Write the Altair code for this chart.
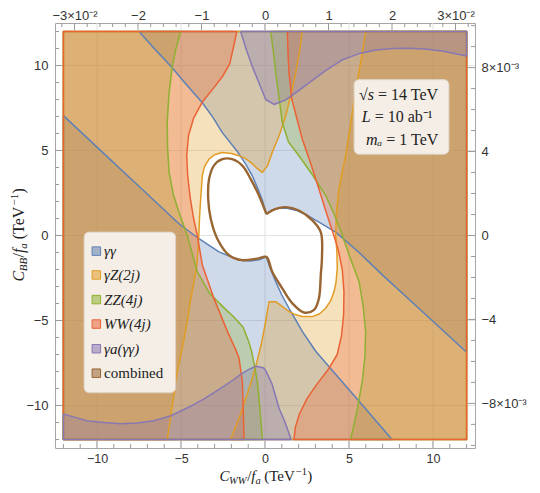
import altair as alt
import pandas as pd

SERIF = "Liberation Serif"
SANS = "Liberation Sans"

# ---------------- boundary curves (data units) ----------------
# gamma gamma (blue): upper-right boundary and lower-left boundary
gg_upper_x = [-7.5, -6.5, -5.6, -4.7, -3.73, -3.1, -2.54, -1.6, -1.15, -0.77, -0.45, -0.18, 0.08, 0.4, 0.83,
              1.3, 1.83, 2.5, 3.21, 4.21, 5.6, 7.0, 8.5, 10.3, 12.0]
gg_upper_y = [12.0, 10.9, 9.95, 8.9, 7.81, 6.95, 6.05, 4.88, 4.2, 3.54, 2.8, 2.13, 1.27, 1.5, 1.6,
              1.6, 1.49, 1.2, 0.79, 0.2, -1.0, -2.33, -3.69, -5.32, -6.87]
gg_lower_x = [-12.0, -10.0, -8.0, -6.5, -5.12, -3.93, -2.74, -1.55, -0.9, -0.36, 0.08, 0.3, 0.64, 1.0,
              1.43, 2.22, 3.02, 4.5, 6.0, 7.56]
gg_lower_y = [7.05, 5.2, 3.35, 1.97, 0.69, -0.19, -0.96, -1.45, -1.5, -1.43, -1.26, -1.9, -2.72, -3.5,
              -4.28, -5.64, -6.81, -8.5, -10.2, -12.0]

# gamma Z (2j) (orange): left boundary and right boundary
gz_left_x = [2.22, 2.05, 1.83, 1.55, 1.23, 0.85, 0.43, 0.15, -0.16, -0.5, -0.85, -1.2, -1.55, -2.0, -2.54,
             -3.0, -3.33, -3.6, -3.73, -3.83, -3.9, -3.93, -4.0, -4.05, -4.23, -4.45, -4.63, -4.9, -5.22,
             -5.5, -5.82]
gz_left_y = [12.0, 10.8, 9.56, 8.3, 7.03, 5.9, 4.88, 4.1, 3.71, 3.98, 4.3, 4.55, 4.69, 4.82, 4.88,
             4.75, 4.49, 4.05, 3.52, 2.15, 1.0, 0.2, -1.0, -1.74, -2.72, -3.9, -5.06, -6.5, -7.98,
             -9.9, -12.0]
gz_right_x = [5.99, 5.7, 5.4, 5.1, 4.8, 4.55, 4.4, 4.25, 4.21, 4.28, 4.3, 4.22, 4.11, 3.9, 3.61, 3.25,
              2.82, 2.22, 1.8, 1.43, 1.0, 0.64, 0.24, 0.05, -0.2, -0.55, -0.95, -1.45, -2.04]
gz_right_y = [12.0, 10.2, 8.58, 6.6, 4.69, 3.5, 2.74, 1.3, 0.01, -1.0, -1.94, -2.8, -3.3, -3.85, -4.28,
              -4.6, -4.77, -4.77, -4.65, -4.47, -4.15, -3.89, -3.89, -5.0, -6.3, -7.7, -9.0, -10.5, -12.0]

# ZZ (4j) (green)
zz_left_x = [-5.02, -5.3, -5.52, -5.72, -5.82, -5.8, -5.71, -5.45, -5.12, -4.63, -4.03, -3.3, -2.5, -1.9,
             -1.3, -0.95, -0.8, -0.6, -0.46, -0.3, -0.16]
zz_left_y = [12.0, 11.0, 9.95, 8.3, 6.64, 5.2, 3.71, 2.4, 1.37, 0.01, -2.13, -3.4, -4.2, -4.75,
             -5.4, -6.3, -6.81, -7.8, -8.57, -10.2, -12.0]
zz_right_x = [0.34, 0.5, 0.64, 0.85, 1.03, 1.4, 2.02, 2.8, 3.61, 4.1, 4.6, 5.1, 5.6, 5.85, 5.99, 5.95,
              5.79, 5.5, 5.1]
zz_right_y = [12.0, 10.8, 9.56, 8.0, 6.64, 5.5, 4.69, 3.6, 2.35, 1.3, 0.01, -1.4, -2.72, -4.2, -5.64, -7.1,
              -8.57, -10.2, -12.0]

# WW (4j) (red)
ww_left_x = [-1.68, -1.85, -2.1, -2.5, -3.04, -3.73, -4.25, -4.55, -4.66, -4.6, -4.45, -4.25, -4.03,
             -3.73, -3.04, -2.24, -1.75, -1.55, -1.35, -1.3, -1.25]
ww_left_y = [12.0, 11.2, 10.1, 9.4, 8.7, 7.85, 6.9, 5.9, 4.69, 3.5, 2.2, 1.0, 0.01,
             -1.74, -3.7, -5.64, -6.7, -7.2, -8.57, -10.0, -12.0]
ww_right_x = [1.33, 1.38, 1.43, 1.6, 2.22, 2.7, 3.21, 3.6, 4.0, 4.35, 4.6, 4.7, 4.68, 4.55, 4.3, 3.75,
              3.05, 2.5, 2.05, 1.8, 1.73]
ww_right_y = [12.0, 10.5, 9.56, 8.0, 5.66, 4.3, 2.74, 1.5, 0.3, -0.8, -2.0, -3.3, -4.67, -5.9, -7.0, -7.9,
              -8.8, -9.6, -10.5, -11.3, -12.0]

# gamma a (gamma gamma) (purple)
ga_top_x = [-1.45, -1.1, -0.76, -0.36, 0.04, 0.54, 1.23, 1.9, 2.62, 3.6, 4.58, 5.6, 6.61, 7.6, 8.57,
            9.5, 10.54, 12.0]
ga_top_y = [12.0, 10.9, 9.95, 8.98, 8.0, 7.71, 7.98, 8.45, 8.98, 9.7, 10.32, 10.7, 10.91, 11.0, 11.02,
            10.97, 10.85, 10.56]
ga_bot_x = [-12.0, -11.3, -10.6, -9.6, -8.57, -7.6, -6.61, -5.6, -4.64, -3.6, -2.62, -1.9, -1.43, -0.9,
            -0.54, -0.06, 0.06, 0.42, 0.83, 1.2, 1.55]
ga_bot_y = [-10.5, -10.7, -10.9, -11.0, -11.08, -11.03, -10.9, -10.6, -10.15, -9.6, -8.98, -8.5, -8.16,
            -7.85, -7.69, -7.8, -7.98, -8.74, -10.15, -11.0, -12.0]

# combined (brown) allowed-region contour
comb_x = [0.08, -0.36, -0.85, -1.35, -1.95, -2.54, -3.04, -3.33, -3.38, -3.23, -2.84, -2.14, -1.35, -0.46,
          0.08, 0.43, 1.03, 1.63, 2.32, 2.92, 3.21, 3.32, 3.39, 3.32, 2.82, 2.02, 1.23, 0.64, 0.08]
comb_y = [1.27, 2.35, 3.32, 4.11, 4.49, 4.49, 4.11, 3.32, 2.15, 0.98, -0.19, -1.16, -1.45, -1.36,
          -1.26, -2.13, -3.11, -3.99, -4.53, -4.37, -3.7, -2.33, -1.32, 0.2, 0.89, 1.47, 1.67, 1.57, 1.27]

# plot-range corners that close each excluded region
corners_ul = [(12.0, 12.0)]
corners_ll = [(-12.0, -12.0)]
corners_left = [(-12.0, -12.0), (-12.0, 12.0)]
corners_right = [(12.0, -12.0), (12.0, 12.0)]

labels = ["γγ", "γZ(2j)", "ZZ(4j)", "WW(4j)", "γa(γγ)", "combined"]
colors = ["#5E81B5", "#E19C24", "#8FB032", "#EB6235", "#8778B3", "#996633"]

x_major = [-10, -5, 0, 5, 10]
x_minor = [-12, -11, -9, -8, -7, -6, -4, -3, -2, -1, 1, 2, 3, 4, 6, 7, 8, 9, 11, 12]
top_major = [-0.03, -0.02, -0.01, 0.0, 0.01, 0.02, 0.03]
top_minor = [-0.032, -0.028, -0.026, -0.024, -0.022, -0.018, -0.016, -0.014, -0.012, -0.008, -0.006,
             -0.004, -0.002, 0.002, 0.004, 0.006, 0.008, 0.012, 0.014, 0.016, 0.018, 0.022, 0.024,
             0.026, 0.028, 0.032]
right_major = [-0.008, -0.004, 0.0, 0.004, 0.008]
right_minor = [-0.010, -0.009, -0.007, -0.006, -0.005, -0.003, -0.002, -0.001, 0.001, 0.002, 0.003,
               0.005, 0.006, 0.007, 0.009, 0.010]

info_lines_left = ["√s", "L", "mₐ"]
info_lines_right = ["= 14 TeV", "= 10 ab⁻¹", "= 1 TeV"]

# ---------------- layout ----------------
W, H = 420, 425
PAD_TOP = 15
XD = [-12.5, 12.5]
YD = [-12.5, 12.5]
TD = [-0.03307, 0.03307]
RD = [-0.010125, 0.010125]
FILL_OP = 0.3


def xenc(field="x", domain=XD, axis=None):
    return alt.X(f"{field}:Q", scale=alt.Scale(domain=domain, nice=False, zero=False), axis=axis)


def yenc(field="y", domain=YD, axis=None):
    return alt.Y(f"{field}:Q", scale=alt.Scale(domain=domain, nice=False, zero=False), axis=axis)


def region_df(cx, cy, corners, close=False):
    pts = list(zip(cx, cy)) + list(corners)
    if close:
        pts = pts + [pts[0]]
    return pd.DataFrame({"x": [p[0] for p in pts], "y": [p[1] for p in pts], "i": list(range(len(pts)))})


regions = [
    (gg_upper_x, gg_upper_y, corners_ul, colors[0]),
    (gg_lower_x, gg_lower_y, corners_ll, colors[0]),
    (gz_left_x, gz_left_y, corners_left, colors[1]),
    (gz_right_x, gz_right_y, corners_right, colors[1]),
    (zz_left_x, zz_left_y, corners_left, colors[2]),
    (zz_right_x, zz_right_y, corners_right, colors[2]),
    (ww_left_x, ww_left_y, corners_left, colors[3]),
    (ww_right_x, ww_right_y, corners_right, colors[3]),
    (ga_top_x, ga_top_y, corners_ul, colors[4]),
    (ga_bot_x, ga_bot_y, corners_ll, colors[4]),
]

layers = []

# grid + main axes
lab_minus = "(datum.value < 0 ? '−' : '') + format(abs(datum.value), 'd')"
grid_v = alt.Chart(pd.DataFrame({"x": x_major})).mark_rule(color="#e2e2e2", strokeWidth=1).encode(
    x=xenc(axis=alt.Axis(orient="bottom", values=x_major, ticks=False, domain=False, grid=False,
                         labelFont=SANS, labelFontSize=12.5, labelColor="#333333", labelPadding=4,
                         labelExpr=lab_minus, title=None)),
    y=alt.value(0), y2=alt.value(H))
grid_h = alt.Chart(pd.DataFrame({"y": x_major})).mark_rule(color="#e2e2e2", strokeWidth=1).encode(
    y=yenc(axis=alt.Axis(orient="left", values=x_major, ticks=False, domain=False, grid=False,
                         labelFont=SANS, labelFontSize=13, labelColor="#333333", labelPadding=7,
                         labelExpr=lab_minus, title=None)),
    x=alt.value(0), x2=alt.value(W))
layers += [grid_v, grid_h]

# fills (blue, orange, green, red, purple order)
for cx, cy, cor, col in regions:
    layers.append(alt.Chart(region_df(cx, cy, cor)).mark_line(
        fill=col, fillOpacity=FILL_OP, strokeOpacity=0, interpolate="linear").encode(
        x=xenc(), y=yenc(), order="i:Q"))

# boundary lines on top
for cx, cy, cor, col in regions:
    layers.append(alt.Chart(region_df(cx, cy, cor, close=True)).mark_line(
        color=col, strokeWidth=1.5, strokeJoin="round", interpolate="linear").encode(
        x=xenc(), y=yenc(), order="i:Q"))

# combined contour
comb_df = pd.DataFrame({"x": comb_x, "y": comb_y, "i": list(range(len(comb_x)))})
layers.append(alt.Chart(comb_df).mark_line(color=colors[5], strokeWidth=2.4, interpolate="catmull-rom").encode(
    x=xenc(), y=yenc(), order="i:Q"))

# ticks (inward)
TICK = "#999999"


def vticks(vals, field, domain, y0, y1, axis=None):
    return alt.Chart(pd.DataFrame({field: vals})).mark_rule(color=TICK, strokeWidth=1).encode(
        x=xenc(field, domain, axis), y=alt.value(y0), y2=alt.value(y1))


def hticks(vals, field, domain, x0, x1, axis=None):
    return alt.Chart(pd.DataFrame({field: vals})).mark_rule(color=TICK, strokeWidth=1).encode(
        y=yenc(field, domain, axis), x=alt.value(x0), x2=alt.value(x1))


top_expr = ("abs(datum.value) > 0.025 ? (datum.value < 0 ? '−3×10⁻²' : '3×10⁻²') : "
            "(datum.value < -0.001 ? '−' : '') + format(abs(round(datum.value*100)), 'd')")
right_expr = ("abs(datum.value) > 0.006 ? (datum.value < 0 ? '−8×10⁻³' : '8×10⁻³') : "
              "(datum.value < -0.001 ? '−' : '') + format(abs(round(datum.value*1000)), 'd')")

layers += [
    vticks(x_major, "x", XD, H, H - 7),
    vticks(x_minor, "x", XD, H, H - 4),
    hticks(x_major, "y", YD, 0, 7),
    hticks(x_minor, "y", YD, 0, 4),
    vticks(top_major, "tx", TD, 0, 7,
           alt.Axis(orient="top", values=top_major, ticks=False, domain=False, grid=False,
                    labelFont=SANS, labelFontSize=13, labelColor="#333333", labelPadding=1,
                    labelExpr=top_expr, title=None)),
    vticks(top_minor, "tx", TD, 0, 4),
    hticks(right_major, "ry", RD, W, W - 7,
           alt.Axis(orient="right", values=right_major, ticks=False, domain=False, grid=False,
                    labelFont=SANS, labelFontSize=13, labelColor="#333333", labelPadding=6,
                    labelExpr=right_expr, title=None)),
    hticks(right_minor, "ry", RD, W, W - 4),
]

# legend box
legend_box = pd.DataFrame({"x": [-10.77], "x2": [-5.32], "y": [0.2], "y2": [-9.25]})
info_box = pd.DataFrame({"x": [5.3], "x2": [10.95], "y": [9.17], "y2": [4.78]})
for box in (legend_box, info_box):
    layers.append(alt.Chart(box).mark_rect(fill="#F6F1EA", stroke="#DDD3C6", strokeWidth=1,
                                           cornerRadius=5, opacity=0.97).encode(
        x=xenc(), x2="x2:Q", y=yenc(), y2="y2:Q"))

leg_y = [-0.92, -2.32, -3.77, -5.21, -6.66, -8.1]
leg_df = pd.DataFrame({"label": labels, "color": colors, "y": leg_y,
                       "sx": [-10.04] * 6, "tx": [-9.58] * 6})
layers.append(alt.Chart(leg_df).mark_square(size=72, fillOpacity=0.55, strokeWidth=1, opacity=1).encode(
    x=xenc("sx"), y=yenc(),
    fill=alt.Fill("color:N", scale=None), stroke=alt.Stroke("color:N", scale=None)))
layers.append(alt.Chart(leg_df.iloc[:5]).mark_text(font=SERIF, fontSize=15, fontStyle="italic", align="left",
                                                   baseline="middle", color="#222222").encode(
    x=xenc("tx"), y=yenc(), text="label:N"))
layers.append(alt.Chart(leg_df.iloc[5:]).mark_text(font=SERIF, fontSize=15, align="left",
                                                   baseline="middle", color="#222222").encode(
    x=xenc("tx"), y=yenc(), text="label:N"))

# info text
info_df = pd.DataFrame({"l": info_lines_left, "r": info_lines_right,
                        "sx": [6.49, 6.29, 6.98], "y": [8.29, 6.99, 5.63]})
layers.append(alt.Chart(info_df).mark_text(font=SERIF, fontSize=16, fontStyle="italic", align="right",
                                           baseline="middle", color="#222222").encode(
    x=xenc("sx"), y=yenc(), text="l:N"))
layers.append(alt.Chart(info_df).mark_text(font=SERIF, fontSize=16, align="left", dx=4,
                                           baseline="middle", color="#222222").encode(
    x=xenc("sx"), y=yenc(), text="r:N"))

# axis titles composed of runs (pixel positions relative to plot origin)
bx0, bby = 164.5, 458
bottom_runs = pd.DataFrame({
    "t": ["C", "WW", "/", "f", "a", "(TeV", "−1", ")"],
    "px": [bx0, bx0 + 9.6, bx0 + 27.7, bx0 + 31.8, bx0 + 35.9, bx0 + 44.7, bx0 + 76.4, bx0 + 87.8],
    "py": [bby, bby + 3, bby, bby, bby + 3, bby, bby - 6, bby],
    "s": [15, 10.5, 15, 15, 10.5, 15, 10.5, 15],
    "it": [1, 1, 0, 1, 1, 0, 0, 0],
})
ly0, lbx = 258.5, -31
left_runs = pd.DataFrame({
    "t": ["C", "BB", "/", "f", "a", "(TeV", "−1", ")"],
    "py": [ly0, ly0 - 10.2, ly0 - 24.0, ly0 - 28.4, ly0 - 32.8, ly0 - 42.2, ly0 - 76.0, ly0 - 88.1],
    "px": [lbx, lbx + 3, lbx, lbx, lbx + 3, lbx, lbx - 6, lbx],
    "s": [16, 11, 16, 16, 11, 16, 11, 16],
    "it": [1, 1, 0, 1, 1, 0, 0, 0],
})
for runs, ang in ((bottom_runs, 0), (left_runs, 270)):
    for it in (1, 0):
        sub = runs[runs["it"] == it]
        layers.append(alt.Chart(sub).mark_text(font=SERIF, fontStyle="italic" if it else "normal",
                                               align="left", baseline="alphabetic", angle=ang,
                                               color="#222222").encode(
            x=alt.X("px:Q", scale=None), y=alt.Y("py:Q", scale=None), text="t:N",
            size=alt.Size("s:Q", scale=None)))

chart = alt.layer(*layers).resolve_scale(x="independent", y="independent").properties(
    width=W, height=H,
    padding={"left": 47, "top": PAD_TOP, "right": 57, "bottom": 493 - 16 - PAD_TOP - H},
    autosize=alt.AutoSizeParams(type="none"),
).configure_view(stroke="#a6a6a6", strokeWidth=1)

chart.save("out.html", embed_options={"renderer": "svg", "actions": False})
